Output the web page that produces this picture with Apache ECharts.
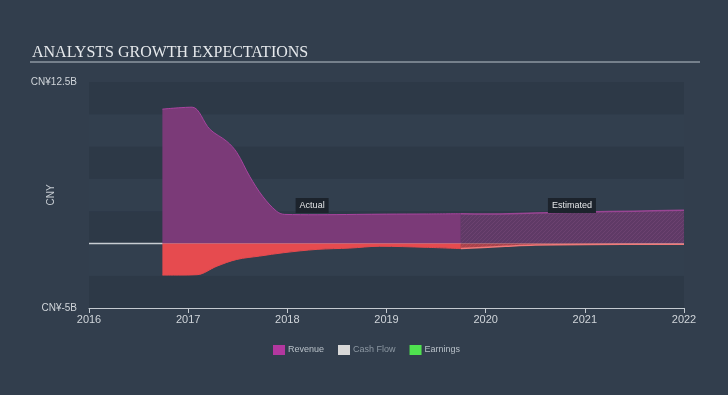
<!DOCTYPE html>
<html>
<head>
<meta charset="utf-8">
<script src="https://cdn.jsdelivr.net/npm/echarts@6/dist/echarts.min.js"></script>
<style>
html,body{margin:0;padding:0;background:#323e4d;}
#chart{width:728px;height:395px;}
</style>
</head>
<body>
<div id="chart"></div>
<script>
// ---- data (values in billions CNY, x in fractional years) ----
const xTicks = [2016, 2017, 2018, 2019, 2020, 2021, 2022];
const revenueActualX = [2016.74, 2016.9, 2017.04, 2017.22, 2017.39, 2017.49, 2017.62, 2017.75, 2017.89, 2017.97, 2018.3, 2018.7, 2019.0, 2019.4, 2019.75];
const revenueActualY = [10.4, 10.5, 10.55, 8.83, 7.9, 7.05, 5.2, 3.66, 2.5, 2.25, 2.22, 2.25, 2.27, 2.28, 2.3];
const revenueEstX = [2019.75, 2020.0, 2020.5, 2021.0, 2021.5, 2022.0];
const revenueEstY = [2.3, 2.28, 2.35, 2.43, 2.5, 2.56];
const earningsActualX = [2016.74, 2016.9, 2017.09, 2017.29, 2017.49, 2017.72, 2017.96, 2018.3, 2018.63, 2018.93, 2019.4, 2019.75];
const earningsActualY = [-2.45, -2.45, -2.42, -1.76, -1.24, -0.98, -0.72, -0.46, -0.36, -0.22, -0.3, -0.4];
const earningsEstX = [2019.75, 2020.2, 2020.5, 2021.0, 2022.0];
const earningsEstY = [-0.4, -0.22, -0.12, -0.08, -0.07];
const cashFlowX = [2016, 2022];
const cashFlowY = [0, 0];
const yMin = -5, yMax = 12.5;
const legendNames = ['Revenue', 'Cash Flow', 'Earnings'];

const zip = (xs, ys) => xs.map((x, i) => [x, ys[i]]);

function hatch(base, line) {
  const c = document.createElement('canvas');
  c.width = 4; c.height = 4;
  const g = c.getContext('2d');
  g.fillStyle = base; g.fillRect(0, 0, 4, 4);
  g.strokeStyle = line; g.lineWidth = 1;
  g.beginPath(); g.moveTo(0, 4); g.lineTo(4, 0); g.stroke();
  return c;
}

const chart = echarts.init(document.getElementById('chart'));
const font = 'Liberation Sans, Arial, sans-serif';

chart.setOption({
  backgroundColor: '#323e4d',
  animation: false,
  title: {
    text: 'ANALYSTS GROWTH EXPECTATIONS',
    left: 27, top: 40,
    textStyle: { fontFamily: 'Liberation Serif, Times New Roman, serif', fontSize: 16, fontWeight: 'normal', color: '#e6e9ec' }
  },
  graphic: [{
    type: 'line', shape: { x1: 30, y1: 62, x2: 700, y2: 62 },
    style: { stroke: '#b9c2cb', lineWidth: 1 }
  }],
  legend: {
    left: 268, top: 340,
    itemWidth: 12, itemHeight: 10, itemGap: 14,
    icon: 'rect',
    textStyle: { fontFamily: font, fontSize: 9, color: '#b8c0c8', padding: [0, 0, 0, -2] },
    data: [
      { name: legendNames[0] },
      { name: legendNames[1], textStyle: { color: '#8c97a2' } },
      { name: legendNames[2] }
    ]
  },
  grid: { left: 89, right: 44, top: 82, bottom: 87 },
  xAxis: {
    type: 'value', min: xTicks[0], max: xTicks[xTicks.length - 1], interval: 1,
    axisLine: { onZero: false, lineStyle: { color: '#c4cad0', width: 1 } },
    axisTick: { show: true, length: 5, lineStyle: { color: '#c4cad0' } },
    axisLabel: { color: '#d0d5da', fontFamily: font, fontSize: 11, margin: 6, formatter: v => String(v) },
    splitLine: { show: false }
  },
  yAxis: {
    type: 'value', min: yMin, max: yMax, interval: 2.5,
    name: 'CNY', nameLocation: 'middle', nameGap: 33, nameRotate: 90, nameMoveOverlap: false,
    nameTextStyle: { color: '#c4cad0', fontFamily: font, fontSize: 10 },
    axisLine: { show: false }, axisTick: { show: false },
    axisLabel: {
      color: '#d0d5da', fontFamily: font, fontSize: 10, margin: 12,
      formatter: v => v === yMax ? 'CN¥12.5B' : (v === yMin ? 'CN¥-5B' : '')
    },
    splitLine: { show: false },
    splitArea: { show: true, areaStyle: { color: ['#2d3947', '#323f4e'] } }
  },
  series: [
    {
      name: 'Cash Flow', type: 'line', data: zip(cashFlowX, cashFlowY), z: 1,
      symbol: 'none', itemStyle: { color: '#d8d8d8' },
      lineStyle: { color: '#c8cdd2', width: 1.5 }
    },
    {
      name: 'Revenue', type: 'line', data: zip(revenueActualX, revenueActualY), z: 3,
      smooth: 0.35, symbol: 'none',
      itemStyle: { color: '#b3379f' },
      lineStyle: { color: '#a8449f', width: 1 },
      areaStyle: { color: '#7b3a78', opacity: 1 },
      markPoint: {
        symbol: 'rect', symbolSize: 1, itemStyle: { color: 'transparent' },
        label: { show: true, position: 'inside', formatter: 'Actual', backgroundColor: '#1c232c', color: '#e4e6e8', padding: [3, 4, 3, 4], fontSize: 9, fontFamily: font },
        data: [{ coord: [2018.25, 2.94] }]
      }
    },
    {
      name: 'RevenueEst', type: 'line', data: zip(revenueEstX, revenueEstY), z: 3,
      smooth: 0.35, symbol: 'none',
      lineStyle: { color: '#9a4594', width: 1.5 },
      areaStyle: { color: { image: hatch('#5f3a66', '#6c4270'), repeat: 'repeat' }, opacity: 1 },
      markPoint: {
        symbol: 'rect', symbolSize: 1, itemStyle: { color: 'transparent' },
        label: { show: true, position: 'inside', formatter: 'Estimated', backgroundColor: '#1c232c', color: '#e4e6e8', padding: [3, 4, 3, 4], fontSize: 9, fontFamily: font },
        data: [{ coord: [2020.87, 2.94] }]
      }
    },
    {
      name: 'Earnings', type: 'line', data: zip(earningsActualX, earningsActualY), z: 3,
      smooth: 0.35, symbol: 'none',
      itemStyle: { color: '#4fe24f' },
      lineStyle: { color: '#e64a4e', width: 1 },
      areaStyle: { color: '#e64b4f', opacity: 1 }
    },
    {
      name: 'EarningsEst', type: 'line', data: zip(earningsEstX, earningsEstY), z: 3,
      smooth: 0.35, symbol: 'none',
      lineStyle: { color: '#f07878', width: 1.5 },
      areaStyle: { color: { image: hatch('#a9434c', '#b84a52'), repeat: 'repeat' }, opacity: 1 }
    }
  ]
});
</script>
</body>
</html>
